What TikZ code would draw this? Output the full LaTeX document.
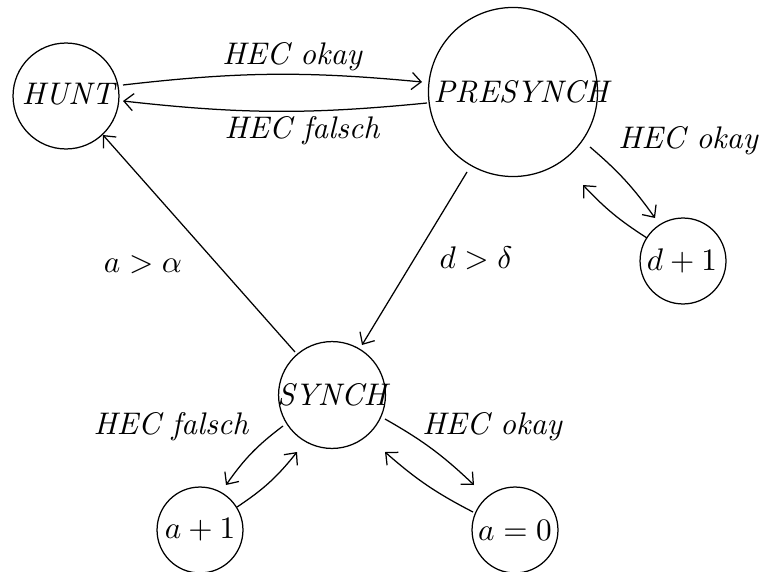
\documentclass[tikz,border=0pt]{standalone}
\usetikzlibrary{arrows.meta,calc}
\begin{document}
\begin{tikzpicture}[x=0.32pt,y=-0.32pt,
  font=\fontsize{10}{12}\selectfont\itshape,
  state/.style={draw,circle,inner sep=0pt,line width=0.4pt},
  txt/.style={inner sep=0pt},
  tr/.style={-{Straight Barb[length=3pt,width=5.5pt]},line width=0.4pt}]
\useasboundingbox (0,0) rectangle (762,571);
% states
\node[state,minimum size=33.9pt] (hunt) at (66,96) {};
\node[state,minimum size=54.1pt] (pre) at (513,92) {};
\node[state,minimum size=34.2pt] (synch) at (332,395) {};
\node[state,minimum size=27.5pt] (d1) at (683,261) {};
\node[state,minimum size=27.5pt] (a1) at (200,530) {};
\node[state,minimum size=27.5pt] (a0) at (515,530) {};
\node[txt] (huntt) at (68,94) {HUNT};
\node[txt] (pret) at (521,92) {PRESYNCH};
\node[txt] (syncht) at (332,395) {SYNCH};
\node[txt] (d1t) at (682,261) {$d+1$};
\node[txt] (a1t) at (200,530) {$a+1$};
\node[txt] (a0t) at (515,530) {$a=0$};
% transitions
\draw[tr] ($(hunt)+(57,-11)$) to[bend left=6] ($(pre)+(-91,-10)$);
\draw[tr] ($(pre)+(-86,11)$) to[bend left=6] ($(hunt)+(57,5)$);
\draw[tr] ($(pre)+(-46,80)$) -- ($(synch)+(30,-50)$);
\draw[tr] ($(synch)+(-37,-43)$) -- ($(hunt)+(37,39)$);
\draw[tr] ($(pre)+(77,55)$) to[bend left=7] ($(d1)+(-28,-43)$);
\draw[tr] ($(d1)+(-36,-23)$) to[bend left=7] ($(pre)+(70,93)$);
\draw[tr] ($(synch)+(-49,31)$) to[bend right=9] ($(a1)+(26,-45)$);
\draw[tr] ($(a1)+(37,-23)$) to[bend right=9] ($(synch)+(-35,57)$);
\draw[tr] ($(synch)+(53,24)$) to[bend left=7] ($(a0)+(-41,-45)$);
\draw[tr] ($(a0)+(-42,-18)$) to[bend left=7] ($(synch)+(53,57)$);
% labels
\node[txt] (l1) at (292,57) {HEC okay};
\node[txt] (l2) at (302,131) {HEC falsch};
\node[txt] (l3) at (143,265) {$a>\alpha$};
\node[txt] (l4) at (476,258) {$d>\delta$};
\node[txt] (l5) at (688,141) {HEC okay};
\node[txt] (l6) at (171,427) {HEC falsch};
\node[txt] (l7) at (492,427) {HEC okay};
\end{tikzpicture}
\end{document}
